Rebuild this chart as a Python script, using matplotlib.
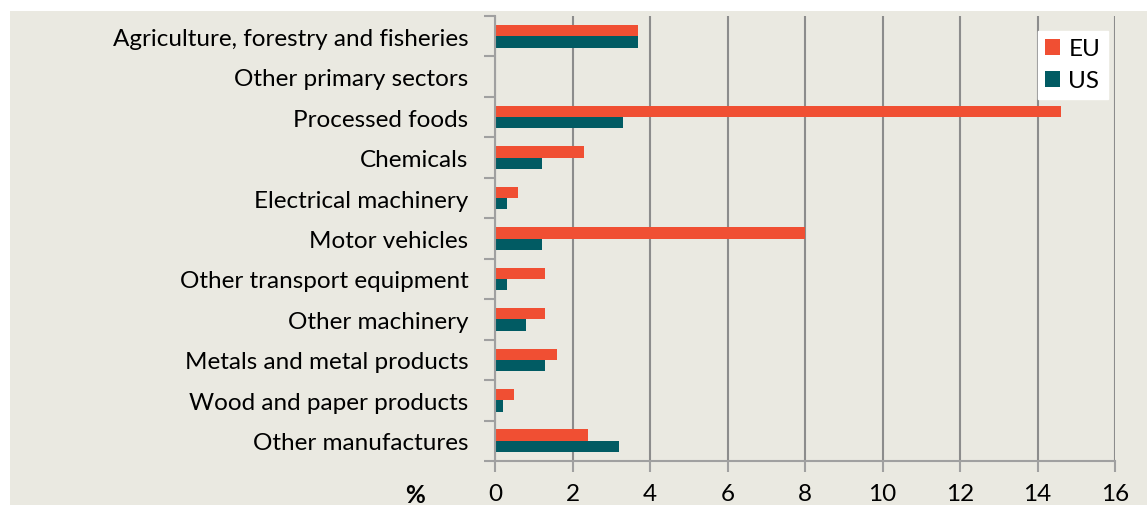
import matplotlib
matplotlib.use("Agg")
import numpy as np
from matplotlib import pyplot as plt
from matplotlib.patches import Rectangle

# data
sectors = ["Agriculture, forestry and fisheries", "Other primary sectors",
           "Processed foods", "Chemicals", "Electrical machinery",
           "Motor vehicles", "Other transport equipment", "Other machinery",
           "Metals and metal products", "Wood and paper products",
           "Other manufactures"]
eu_values = [3.7, 0.0, 14.6, 2.3, 0.6, 8.0, 1.3, 1.3, 1.6, 0.5, 2.4]
us_values = [3.7, 0.0, 3.3, 1.2, 0.3, 1.2, 0.3, 0.8, 1.3, 0.2, 3.2]
x_ticks = [0, 2, 4, 6, 8, 10, 12, 14, 16]

EU_COL = "#F04F33"
US_COL = "#015B63"
BG = "#EAE9E1"
FS = 17.5

plt.rcParams["font.family"] = ["Lato", "DejaVu Sans"]

fig = plt.figure(figsize=(11.47, 5.06), dpi=100)
fig.patch.set_facecolor("white")
# beige panel behind the whole chart
fig.patches.append(Rectangle((10 / 1147, 0), 1 - 10 / 1147, 1 - 12 / 506,
                             transform=fig.transFigure, facecolor=BG,
                             edgecolor="none", zorder=-10))

ax = fig.add_axes([495 / 1147, 44 / 506, 620 / 1147, 445 / 506])
ax.set_facecolor(BG)

n = len(sectors)
y = np.arange(n)
h = 0.28
ax.barh(y - h / 2, eu_values, height=h, color=EU_COL, label="EU", zorder=3)
ax.barh(y + h / 2, us_values, height=h, color=US_COL, label="US", zorder=3)

ax.set_ylim(n - 0.5, -0.5)
ax.set_xlim(0, 16)
ax.set_xticks(x_ticks)
ax.set_xticklabels([str(t) for t in x_ticks], fontsize=FS)
ax.set_yticks(y)
ax.set_yticklabels(sectors, fontsize=FS)
ax.set_yticks(np.arange(-0.5, n, 1.0), minor=True)
ax.tick_params(axis="y", which="major", length=0, pad=19)
ax.tick_params(axis="y", which="minor", length=8, color="#A0A0A0", width=1.5)
ax.tick_params(axis="x", length=8, color="#A0A0A0", width=1.5, pad=8)

ax.grid(axis="x", color="#8C8C8C", linewidth=1.5, zorder=1)
for s in ["top", "right"]:
    ax.spines[s].set_visible(False)
for s in ["left", "bottom"]:
    ax.spines[s].set_color("#A0A0A0")
    ax.spines[s].set_linewidth(1.5)
    ax.spines[s].set_zorder(4)

fig.text(415 / 1147, 1 - 496 / 506, "%", fontsize=FS, fontweight="bold",
         ha="center", va="center")

leg = ax.legend(loc="upper right", bbox_to_anchor=(0.988, 0.966), fontsize=FS,
                frameon=True, fancybox=False, handlelength=0.6,
                handleheight=0.6, handletextpad=0.35, borderpad=0.3,
                labelspacing=0.45, borderaxespad=0)
leg.get_frame().set_facecolor("white")
leg.get_frame().set_edgecolor("white")
leg.get_frame().set_alpha(1)

fig.savefig("out.png", dpi=100)
